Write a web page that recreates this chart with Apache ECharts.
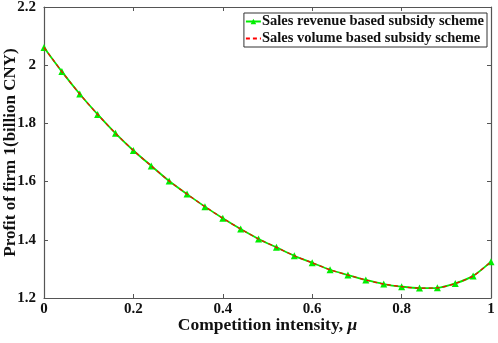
<!DOCTYPE html>
<html>
<head>
<meta charset="utf-8">
<script src="https://cdn.jsdelivr.net/npm/echarts@6/dist/echarts.min.js"></script>
<style>
  html, body { margin: 0; padding: 0; background: #fff; }
  #chart { width: 498px; height: 343px; }
</style>
</head>
<body>
<div id="chart"></div>
<script>
var mu = [0, 0.04, 0.08, 0.12, 0.16, 0.2, 0.24, 0.28, 0.32, 0.36, 0.4, 0.44, 0.48,
          0.52, 0.56, 0.6, 0.64, 0.68, 0.72, 0.76, 0.8, 0.84, 0.88, 0.92, 0.96, 1];
var revenueProfit = [2.061, 1.978, 1.901, 1.831, 1.766, 1.707, 1.654, 1.602, 1.557, 1.514,
                     1.474, 1.437, 1.403, 1.374, 1.345, 1.321, 1.297, 1.279, 1.262, 1.248,
                     1.239, 1.234, 1.235, 1.250, 1.276, 1.325];
var volumeProfit = revenueProfit.slice();
var seriesNames = ['Sales revenue based subsidy scheme', 'Sales volume based subsidy scheme'];

var font = 'Liberation Serif, Times New Roman, serif';
var axisColor = '#555';

function pairs(xs, ys) {
	return xs.map(function (x, i) { return [x, ys[i]]; });
}

var chart = echarts.init(document.getElementById('chart'));

var tickStyle = { show: true, inside: true, length: 4, lineStyle: { color: axisColor, width: 1 } };

chart.setOption({
	animation: false,
	backgroundColor: '#fff',
	grid: { left: 44, right: 7, top: 7, bottom: 45, outerBoundsMode: 'none', containLabel: false },
	legend: {
		right: 11, top: 13,
		orient: 'vertical',
		itemGap: 2,
		itemWidth: 15, itemHeight: 7,
		padding: [1, 3, 1, 1],
		borderColor: '#333', borderWidth: 1,
		borderRadius: 0,
		backgroundColor: '#fff',
		textStyle: { fontFamily: font, fontWeight: 'bold', fontSize: 14.5, color: '#111', padding: [0, 0, 0, -4] },
		data: [
			{ name: seriesNames[0] },
			{ name: seriesNames[1], itemStyle: { opacity: 0 } }
		]
	},
	xAxis: [
		{
			type: 'value', min: 0, max: 1, interval: 0.2,
			axisLine: { lineStyle: { color: axisColor, width: 1.2 } },
			axisTick: tickStyle,
			splitLine: { show: false },
			axisLabel: {
				margin: 4, color: '#111', fontFamily: font, fontWeight: 'bold', fontSize: 15,
				formatter: function (v) { return String(+v.toFixed(1)); }
			},
			name: '{n|Competition intensity, }{m|μ}',
			nameLocation: 'middle', nameGap: 18, nameMoveOverlap: false,
			nameTextStyle: {
				rich: {
					n: { fontFamily: font, fontWeight: 'bold', fontSize: 17.5, color: '#111' },
					m: { fontFamily: font, fontWeight: 'bold', fontStyle: 'italic', fontSize: 17.5, color: '#111' }
				}
			}
		},
		{
			type: 'value', min: 0, max: 1, interval: 0.2, position: 'top',
			axisLine: { show: true, onZero: false, lineStyle: { color: axisColor, width: 1.2 } },
			axisTick: tickStyle,
			axisLabel: { show: false },
			splitLine: { show: false }
		}
	],
	yAxis: [
		{
			type: 'value', min: 1.2, max: 2.2, interval: 0.2,
			axisLine: { show: true, lineStyle: { color: axisColor, width: 1.2 } },
			axisTick: tickStyle,
			splitLine: { show: false },
			axisLabel: {
				margin: 8, color: '#111', fontFamily: font, fontWeight: 'bold', fontSize: 15,
				formatter: function (v) { return String(+v.toFixed(1)); }
			},
			name: 'Profit of firm 1(billion CNY)',
			nameLocation: 'middle', nameGap: 25, nameMoveOverlap: false,
			nameTextStyle: { fontFamily: font, fontWeight: 'bold', fontSize: 17, color: '#111' }
		},
		{
			type: 'value', min: 1.2, max: 2.2, interval: 0.2, position: 'right',
			axisLine: { show: true, onZero: false, lineStyle: { color: axisColor, width: 1.2 } },
			axisTick: tickStyle,
			axisLabel: { show: false },
			splitLine: { show: false }
		}
	],
	series: [
		{
			name: seriesNames[0], type: 'line',
			data: pairs(mu, revenueProfit),
			smooth: 0.3,
			symbol: 'triangle', symbolSize: 7, showAllSymbol: true,
			itemStyle: { color: '#00ee00' },
			lineStyle: { color: '#00ee00', width: 1.8 },
			z: 2
		},
		{
			name: seriesNames[1], type: 'line',
			data: pairs(mu, volumeProfit),
			smooth: 0.3,
			symbol: 'none',
			itemStyle: { color: '#ff0000' },
			lineStyle: { color: '#ff0000', width: 1.2, type: [4, 3] },
			z: 3
		}
	]
});
</script>
</body>
</html>
